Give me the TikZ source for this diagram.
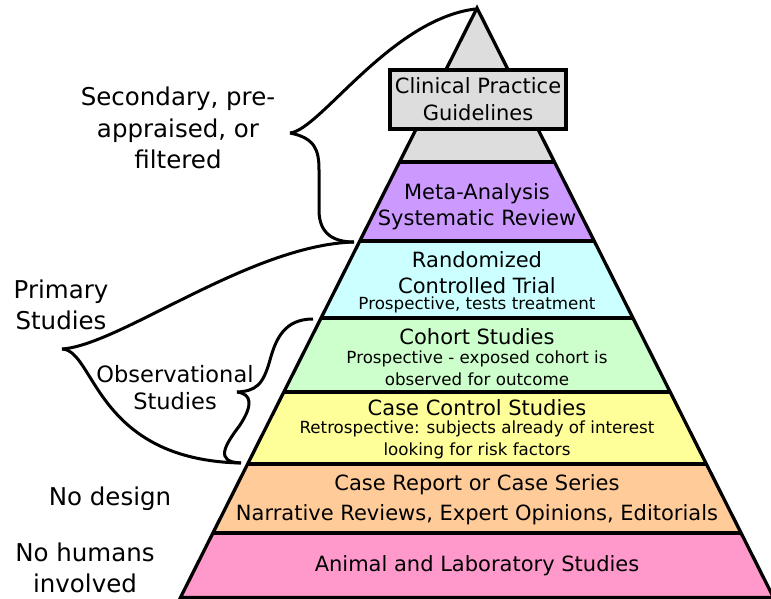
\documentclass[tikz,border=0pt]{standalone}
\usepackage{fontspec}
\setmainfont{DejaVu Sans}
\definecolor{tipgray}{HTML}{DDDDDD}
\definecolor{metapurple}{HTML}{CC99FF}
\definecolor{rctcyan}{HTML}{CCFFFF}
\definecolor{cohortgreen}{HTML}{CCFFCC}
\definecolor{ccyellow}{HTML}{FFFF99}
\definecolor{reportorange}{HTML}{FFCC99}
\definecolor{animalpink}{HTML}{FF99CC}
\tikzset{
  biglabel/.style={font=\fontsize{21}{26}\selectfont, align=center, inner sep=0pt},
  smalllabel/.style={font=\fontsize{16.7}{22}\selectfont, align=center, inner sep=0pt},
  sidelabel/.style={font=\fontsize{24.5}{31.5}\selectfont, align=center, inner sep=0pt},
  guidebox/.style={biglabel, font=\fontsize{21}{27}\selectfont, draw, fill=tipgray,
    line width=3.3pt, minimum width=176pt, minimum height=59pt},
  brace/.style={line width=3pt, line join=round}
}
\begin{document}
\begin{tikzpicture}[x=1pt, y=-1pt]
\useasboundingbox (0,0) rectangle (771,599);
% pyramid bands
\foreach \ya/\yb/\col in {8/162/tipgray, 162/241/metapurple, 241/318/rctcyan,
  318/392/cohortgreen, 392/464/ccyellow, 464/533/reportorange, 533/597.5/animalpink}
  \fill[\col] ({477-0.503*(\ya-8)},\ya) -- ({477-0.503*(\yb-8)},\yb)
    -- ({477+0.503*(\yb-8)},\yb) -- ({477+0.503*(\ya-8)},\ya) -- cycle;
\foreach \y in {162,241,318,392,464,533}
  \draw[line width=3.3pt] ({477-0.503*(\y-8)},\y) -- ({477+0.503*(\y-8)},\y);
\coordinate (apex) at (477,8);
\coordinate (baseleft) at ({477-0.503*589.5},597.5);
\coordinate (baseright) at ({477+0.503*589.5},597.5);
\draw[line width=3.3pt] (apex) -- (baseleft) -- (baseright) -- cycle;

% texts in the pyramid
\node[guidebox] (cpg) at (478,99.5) {Clinical Practice\\Guidelines};
\node[biglabel] (meta) at (477,207) {Meta-Analysis\\Systematic Review};
\node[biglabel] (rct) at (477,273) {Randomized\\Controlled Trial};
\node[smalllabel] (rctnote) at (477,305) {Prospective, tests treatment};
\node[biglabel] (cohort) at (477,337) {Cohort Studies};
\node[smalllabel] (cohortnote) at (477,368) {Prospective - exposed cohort is\\observed for outcome};
\node[biglabel] (casecontrol) at (477,408) {Case Control Studies};
\node[smalllabel] (ccnote) at (477,440) {Retrospective: subjects already of interest\\looking for risk factors};
\node[biglabel] (casereport) at (477,500) {Case Report or Case Series\\[4pt]Narrative Reviews, Expert Opinions, Editorials};
\node[biglabel] (animal) at (477,566) {Animal and Laboratory Studies};

% texts on the left
\node[sidelabel] (secondary) at (178,128) {Secondary, pre-\\appraised, or\\filtered};
\node[sidelabel] (primary) at (61,305) {Primary\\Studies};
\node[sidelabel, font=\fontsize{22.5}{27}\selectfont] (observational) at (175,388) {Observational\\Studies};
\node[sidelabel] (nodesign) at (110,499) {No design};
\node[sidelabel] (nohumans) at (85,568) {No humans\\involved};

% braces
\coordinate (top) at (475,9);
\coordinate (secTip) at (290,133);
\coordinate (rctLeft) at (354,242);
\coordinate (primTip) at (62,349);
\coordinate (obsTop) at (313,319);
\coordinate (obsTip) at (237,392);
\coordinate (ccLeft) at (241,463);
\draw[brace] (secTip) .. controls +(30,-3) and +(-85,11) .. (top);
\draw[brace] (secTip) .. controls +(25,5) and +(0,-20) .. ++(29,37) -- ++(0,40)
  .. controls +(0,25) and +(-19,0) .. (rctLeft);
\draw[brace] (primTip) .. controls +(58,-4) and +(-104,3) .. (rctLeft);
\draw[brace] (primTip) .. controls +(33,1) and +(-146,-3) .. (ccLeft);
\draw[brace] (obsTop) .. controls +(-28,0) and +(6,-22) .. ++(-43,41)
  .. controls +(-7,25) and +(19,-1) .. (obsTip);
\draw[brace] (obsTip) .. controls +(15,2) and +(13,-20) .. ++(3,33)
  .. controls +(-15,20) and +(-27,-1) .. (ccLeft);
\end{tikzpicture}
\end{document}
